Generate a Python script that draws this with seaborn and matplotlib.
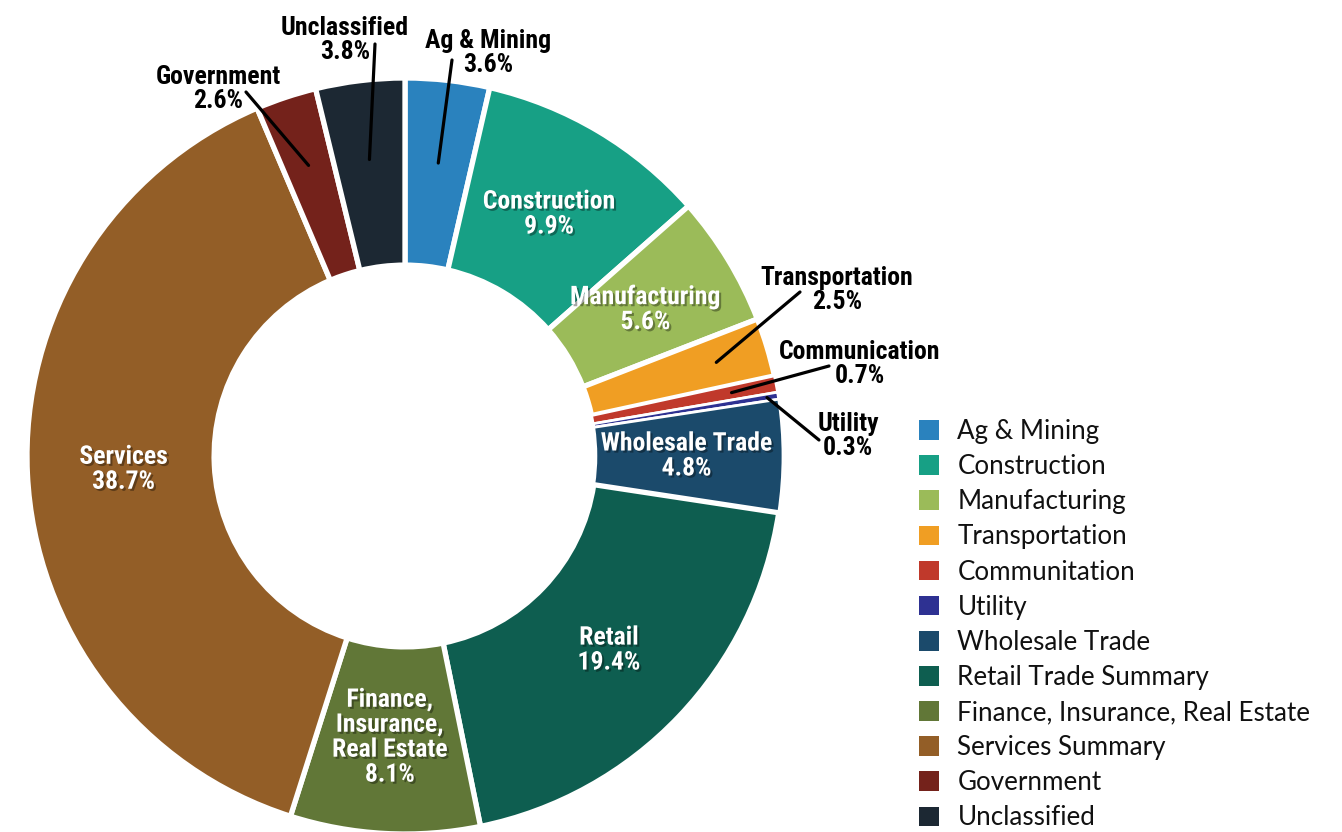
import numpy as np
import matplotlib
matplotlib.use("Agg")
import matplotlib.pyplot as plt
import matplotlib.patheffects as pe
from matplotlib.patches import Patch
from matplotlib import font_manager
import seaborn as sns

# data, clockwise from 12 o'clock
sectors = ['Ag & Mining', 'Construction', 'Manufacturing', 'Transportation',
           'Communication', 'Utility', 'Wholesale Trade', 'Retail',
           'Finance,\nInsurance,\nReal Estate', 'Services', 'Government', 'Unclassified']
shares = [3.6, 9.9, 5.6, 2.5, 0.7, 0.3, 4.8, 19.4, 8.1, 38.7, 2.6, 3.8]
legend_names = ['Ag & Mining', 'Construction', 'Manufacturing', 'Transportation',
                'Communitation', 'Utility', 'Wholesale Trade', 'Retail Trade Summary',
                'Finance, Insurance, Real Estate', 'Services Summary', 'Government',
                'Unclassified']
colors = ['#2A82BE', '#17A085', '#9BBB59', '#F09E23', '#C0392B', '#2E3192',
          '#1B4A6B', '#0E5E50', '#617737', '#935E27', '#74221B', '#1C2833']
# labels drawn outside the ring (with a leader line)
outside = {'Ag & Mining', 'Unclassified', 'Government', 'Transportation',
           'Communication', 'Utility'}

sns.set_theme(style="white")
pal = sns.color_palette(colors)

names = {f.name for f in font_manager.fontManager.ttflist}
lab_font = dict(family='DejaVu Sans', weight='bold')
for fam in ['Liberation Sans Narrow', 'Roboto Condensed', 'Lato', 'Roboto']:
    if fam in names:
        lab_font = dict(family=fam, weight='black')
        break
leg_font = 'Lato' if 'Lato' in names else 'DejaVu Sans'

W, H = 1342, 832
cx, cy, S = 405, 456, 378.0   # ring centre (px) and px per data unit

fig = plt.figure(figsize=(W / 100, H / 100), dpi=100)
ax = fig.add_axes([0, 0, 1, 1])

wedges, _ = ax.pie(shares, colors=pal, startangle=90, counterclock=False,
                   radius=1.0,
                   wedgeprops=dict(width=0.495, edgecolor='white', linewidth=3.8))
# thinner separators around the tiny slices so they stay visible
for name in ['Communication', 'Utility', 'Wholesale Trade']:
    wedges[sectors.index(name)].set_linewidth(2.0)
ax.set_xlim(-cx / S, (W - cx) / S)
ax.set_ylim(-(H - cy) / S, cy / S)
ax.set_aspect('auto')
ax.axis('off')

def px(x, y):
    return ((x - cx) / S, (cy - y) / S)

shadow = [pe.withSimplePatchShadow(offset=(1.5, -1.5), shadow_rgbFace='black', alpha=0.35)]

# outside label layout (pixel positions of text centre and leader end, start radius)
out_layout = {
    'Ag & Mining': ((488, 53), (452, 60), 0.78),
    'Unclassified': ((345, 40), (375, 44), 0.79),
    'Government': ((218, 89), (246, 92), 0.81),
    'Transportation': ((837, 290), (800, 292), 0.86),
    'Communication': ((860, 364), (829, 366), 0.88),
    'Utility': ((848, 436), (819, 440), 0.97),
}

for w, name, val in zip(wedges, sectors, shares):
    mid = np.deg2rad((w.theta1 + w.theta2) / 2)
    txt = f"{name}\n{val:.1f}%"
    if name in outside:
        (tx, ty), (ex, ey), r0 = out_layout[name]
        start = (r0 * np.cos(mid), r0 * np.sin(mid))
        ax.annotate('', xy=start, xytext=px(ex, ey),
                    arrowprops=dict(arrowstyle='-', color='black', lw=2.3,
                                    shrinkA=0, shrinkB=0))
        ax.text(*px(tx, ty), txt, ha='center', va='center', color='black',
                fontsize=18.5, linespacing=1.05, **lab_font)
    else:
        r = 0.745
        ax.text(r * np.cos(mid), r * np.sin(mid), txt, ha='center', va='center',
                color='white', fontsize=18.5, linespacing=1.05,
                path_effects=shadow, **lab_font)

handles = [Patch(facecolor=c, edgecolor='none') for c in pal]
leg = ax.legend(handles, legend_names, loc='upper left',
                bbox_to_anchor=(919 / W, 1 - 419 / H), bbox_transform=fig.transFigure,
                frameon=False, borderpad=0, borderaxespad=0,
                handlelength=0.78, handleheight=0.78, handletextpad=0.7,
                labelspacing=0.39, prop=dict(family=leg_font, size=18.7))
for t in leg.get_texts():
    t.set_color('#111111')

fig.savefig('out.png', dpi=100)
